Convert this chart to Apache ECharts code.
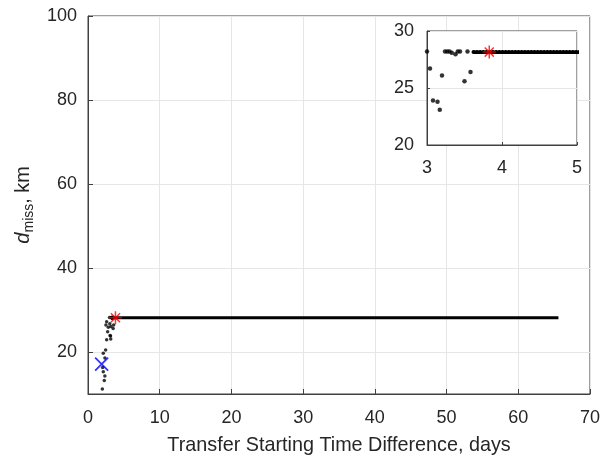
<!DOCTYPE html>
<html>
<head>
<meta charset="utf-8">
<script src="https://cdn.jsdelivr.net/npm/echarts@6/dist/echarts.min.js"></script>
<style>
  html, body { margin: 0; padding: 0; background: #fff; }
  #chart { width: 603px; height: 462px; }
</style>
</head>
<body>
<div id="chart"></div>
<script>
// early scattered solutions (days, km)
var scatterPts = [
    [2.0, 11.2], [2.27, 13.2], [2.35, 14.3], [2.13, 15.3], [2.04, 16.3],
    [2.36, 18.6], [2.13, 19.7], [2.46, 20.5], [2.6, 22.9], [2.5, 26.4],
    [2.6, 27.2], [2.74, 24.8], [2.83, 25.9],
    [3.0, 28.2], [3.04, 26.7], [3.08, 23.9], [3.14, 23.8], [3.17, 23.1],
    [3.2, 26.1], [3.24, 28.2], [3.27, 28.2], [3.3, 28.2], [3.33, 28.1],
    [3.38, 27.95], [3.41, 28.2], [3.44, 28.2], [3.5, 25.6], [3.54, 28.2],
    [3.58, 26.4]
];
// plateau of the miss distance
var flatRun = [[3.62, 28.15], [65.6, 28.15]];
var bluePoint = [[1.9, 17.1]];
var redPoint = [[3.83, 28.15]];

var mainYTicks = [20, 40, 60, 80, 100];

var textColor = '#262626';
var axisColor = '#404040';
var gridColor = '#e6e6e6';
var fontFamily = '"Liberation Sans", Arial, sans-serif';

var starPath = 'path://M0,-10L0,10M-10,0L10,0M-7,-7L7,7M-7,7L7,-7';
var crossPath = 'path://M-10,-10L10,10M-10,10L10,-10';

var chart = echarts.init(document.getElementById('chart'));

var option = {
    animation: false,
    backgroundColor: '#fff',
    textStyle: { fontFamily: fontFamily },
    grid: [
        { left: 88, top: 16, width: 503, height: 378, show: true,
          borderColor: axisColor, borderWidth: 1, backgroundColor: '#fff' },
        { left: 427, top: 31, width: 150, height: 114, show: true, z: 5,
          borderColor: axisColor, borderWidth: 1, backgroundColor: '#fff' }
    ],
    xAxis: [
        {
            type: 'value', gridIndex: 0, min: 0, max: 70, interval: 10,
            name: 'Transfer Starting Time Difference, days',
            nameLocation: 'middle', nameGap: 42,
            nameTextStyle: { color: textColor, fontSize: 19.8, fontFamily: fontFamily },
            axisLine: { show: true, lineStyle: { color: axisColor } },
            axisTick: { show: true, inside: true, length: 5, lineStyle: { color: axisColor } },
            axisLabel: { color: textColor, fontSize: 18, margin: 15, fontFamily: fontFamily },
            splitLine: { show: true, lineStyle: { color: gridColor } }
        },
        {
            type: 'value', gridIndex: 1, min: 3, max: 5, interval: 1, z: 6,
            axisLine: { show: true, lineStyle: { color: axisColor } },
            axisTick: { show: true, inside: true, length: 3, lineStyle: { color: axisColor } },
            axisLabel: { color: textColor, fontSize: 18, margin: 14, fontFamily: fontFamily },
            splitLine: { show: true, lineStyle: { color: gridColor } }
        }
    ],
    yAxis: [
        {
            type: 'value', gridIndex: 0, min: 10, max: 100,
            name: '{d|d}{s|miss}{n|, km}',
            nameLocation: 'middle', nameGap: 48, nameRotate: 90,
            nameTextStyle: {
                color: textColor, fontFamily: fontFamily,
                rich: {
                    d: { fontSize: 20, fontStyle: 'italic', color: textColor, fontFamily: fontFamily },
                    s: { fontSize: 14, color: textColor, padding: [12, 0, 0, 0], fontFamily: fontFamily },
                    n: { fontSize: 19.8, color: textColor, fontFamily: fontFamily }
                }
            },
            axisLine: { show: true, lineStyle: { color: axisColor } },
            axisTick: { show: true, inside: true, length: 5, customValues: mainYTicks,
                        lineStyle: { color: axisColor } },
            axisLabel: { color: textColor, fontSize: 18, margin: 11, customValues: mainYTicks,
                         fontFamily: fontFamily },
            splitLine: { show: true, customValues: mainYTicks, lineStyle: { color: gridColor } }
        },
        {
            type: 'value', gridIndex: 1, min: 20, max: 30, interval: 5, z: 6,
            axisLine: { show: true, lineStyle: { color: axisColor } },
            axisTick: { show: true, inside: true, length: 3, lineStyle: { color: axisColor } },
            axisLabel: { color: textColor, fontSize: 18, margin: 13, fontFamily: fontFamily },
            splitLine: { show: true, lineStyle: { color: gridColor } }
        }
    ],
    series: [
        {
            type: 'line', xAxisIndex: 0, yAxisIndex: 0, data: flatRun,
            symbol: 'none', lineStyle: { color: '#000', width: 3 }, z: 2
        },
        {
            type: 'scatter', xAxisIndex: 0, yAxisIndex: 0, data: scatterPts,
            symbolSize: 3.5, itemStyle: { color: '#000' }, z: 2
        },
        {
            type: 'scatter', xAxisIndex: 0, yAxisIndex: 0, data: bluePoint,
            symbol: crossPath, symbolSize: 13,
            itemStyle: { color: 'none', borderColor: '#0000ff', borderWidth: 1.8 }, z: 3
        },
        {
            type: 'scatter', xAxisIndex: 0, yAxisIndex: 0, data: redPoint,
            symbol: starPath, symbolSize: 13,
            itemStyle: { color: 'none', borderColor: '#ff0000', borderWidth: 1.5 }, z: 3
        },
        {
            type: 'line', xAxisIndex: 1, yAxisIndex: 1, data: flatRun, clip: true,
            symbol: 'none', z: 7,
            lineStyle: { color: '#000', width: 4, type: [0.5, 2.7], cap: 'round' }
        },
        {
            type: 'scatter', xAxisIndex: 1, yAxisIndex: 1, data: scatterPts, clip: true,
            symbolSize: 4.5, itemStyle: { color: '#000' }, z: 7
        },
        {
            type: 'scatter', xAxisIndex: 1, yAxisIndex: 1, data: redPoint, clip: true,
            symbol: starPath, symbolSize: 13,
            itemStyle: { color: 'none', borderColor: '#ff0000', borderWidth: 1.5 }, z: 8
        }
    ]
};

chart.setOption(option);
</script>
</body>
</html>
